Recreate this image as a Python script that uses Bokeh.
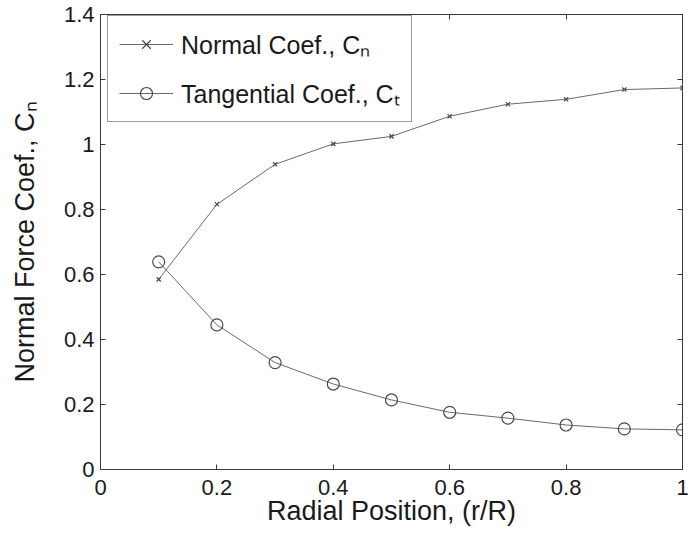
from bokeh.plotting import figure
from bokeh.models import LinearAxis, FixedTicker, Range1d, Legend, LegendItem, CustomJSTickFormatter
from bokeh.embed import file_html
from bokeh.resources import INLINE

# ---- data ----
r_over_R = [0.1, 0.2, 0.3, 0.4, 0.5, 0.6, 0.7, 0.8, 0.9, 1.0]
normal_cn = [0.585, 0.816, 0.939, 1.002, 1.025, 1.087, 1.124, 1.139, 1.169, 1.174]
tangential_ct = [0.639, 0.445, 0.329, 0.263, 0.214, 0.176, 0.158, 0.137, 0.125, 0.122]

x_ticks = [0, 0.2, 0.4, 0.6, 0.8, 1]
x_tick_labels = ["0", "0.2", "0.4", "0.6", "0.8", "1"]
y_ticks = [0, 0.2, 0.4, 0.6, 0.8, 1, 1.2, 1.4]
y_tick_labels = ["0", "0.2", "0.4", "0.6", "0.8", "1", "1.2", "1.4"]

series_labels = ["Normal Coef., C\u2099", "Tangential Coef., C\u209c"]
x_label = "Radial Position, (r/R)"
y_label = "Normal Force Coef., C\u2099"

FONT = "Liberation Sans"
LINE = "#6a6a6a"
MARK = "#4a4a4a"
AXIS = "#3a3a3a"

p = figure(width=690, height=533, x_range=Range1d(0, 1), y_range=Range1d(0, 1.4),
           output_backend="svg", toolbar_location=None,
           min_border_left=100, min_border_right=8, min_border_top=14, min_border_bottom=64)

p.background_fill_color = "white"
p.border_fill_color = "white"
p.outline_line_color = AXIS
p.outline_line_width = 1
p.xgrid.visible = False
p.ygrid.visible = False

def style_axis(ax, ticks, labels, show_labels=True):
    ax.ticker = FixedTicker(ticks=ticks)
    ax.major_tick_in = 5
    ax.major_tick_out = 0
    ax.minor_tick_line_color = None
    ax.axis_line_color = AXIS
    ax.major_tick_line_color = AXIS
    ax.major_label_text_font = FONT
    ax.major_label_text_color = "#1a1a1a"
    ax.major_label_text_font_size = "22px"
    if show_labels:
        ax.major_label_overrides = dict(zip(ticks, labels))
    else:
        ax.formatter = CustomJSTickFormatter(code="return ''")
        ax.major_label_standoff = 0

style_axis(p.xaxis[0], x_ticks, x_tick_labels)
style_axis(p.yaxis[0], y_ticks, y_tick_labels)
p.xaxis[0].major_label_standoff = 10
p.yaxis[0].major_label_standoff = 6

p.xaxis[0].axis_label = x_label
p.yaxis[0].axis_label = y_label
for ax in (p.xaxis[0], p.yaxis[0]):
    ax.axis_label_text_font = FONT
    ax.axis_label_text_font_size = "27px"
    ax.axis_label_text_font_style = "normal"
    ax.axis_label_text_color = "#1a1a1a"
p.xaxis[0].axis_label_standoff = -2
p.yaxis[0].axis_label_standoff = 21

top = LinearAxis()
style_axis(top, x_ticks, x_tick_labels, show_labels=False)
p.add_layout(top, "above")
right = LinearAxis()
style_axis(right, y_ticks, y_tick_labels, show_labels=False)
p.add_layout(right, "right")

ln1 = p.line(r_over_R, normal_cn, line_color=LINE, line_width=1)
mk1 = p.scatter(r_over_R, normal_cn, marker="x", size=6, line_color=MARK, line_width=1.2)
ln2 = p.line(r_over_R, tangential_ct, line_color=LINE, line_width=1)
mk2 = p.scatter(r_over_R, tangential_ct, marker="circle", size=12, fill_color=None,
                line_color=MARK, line_width=1.2)

legend = Legend(items=[LegendItem(label=series_labels[0], renderers=[ln1, mk1]),
                       LegendItem(label=series_labels[1], renderers=[ln2, mk2])],
                location=(7, 347), margin=0, padding=11, spacing=15,
                glyph_width=54, glyph_height=30, label_height=30, label_standoff=8,
                label_text_font=FONT, label_text_font_size="25px", label_text_color="#1a1a1a",
                border_line_color=AXIS, border_line_width=1, background_fill_alpha=1)
p.add_layout(legend)

open("out.html", "w").write(file_html(p, INLINE))
